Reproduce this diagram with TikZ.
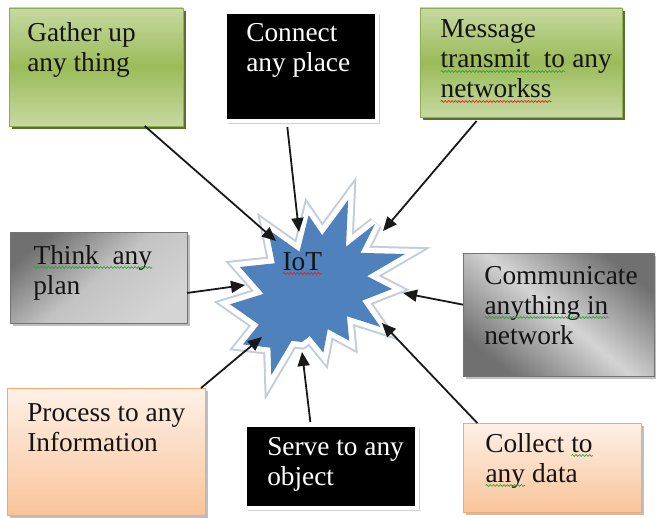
\documentclass[tikz,border=0pt]{standalone}
\usepackage{fontspec}
\setmainfont{Liberation Serif}
\usetikzlibrary{arrows.meta,calc,decorations.pathmorphing,shadows}
\definecolor{gLight}{HTML}{C6D9A0}
\definecolor{gDark}{HTML}{9BBB59}
\definecolor{gEdge}{HTML}{8EAD50}
\definecolor{gShadow}{HTML}{5A7030}
\definecolor{pLight}{HTML}{FEF1E7}
\definecolor{pDark}{HTML}{F9C49A}
\definecolor{pEdge}{HTML}{F9A66C}
\definecolor{greyLight}{HTML}{D4D4D4}
\definecolor{greyDark}{HTML}{707070}
\definecolor{starBlue}{HTML}{4F81BD}
\definecolor{starRim}{HTML}{C3CDD9}
\definecolor{sqRed}{HTML}{E02020}
\definecolor{sqGreen}{HTML}{30A030}
\newcommand\wav[2]{\tikz[baseline=(w.base)]{\node[inner sep=0pt,outer sep=0pt,anchor=base,draw=none,fill=none](w){#2};\draw[#1,line width=0.5pt,decorate,decoration={snake,amplitude=0.7pt,segment length=2.6pt}]([yshift=-2.6pt]w.base west)--([yshift=-2.6pt]w.base east);}}
\begin{document}
\begin{tikzpicture}[x=0.75pt,y=-0.75pt,
  font=\fontsize{20.5}{22.5}\selectfont,
  box/.style={anchor=north west,inner sep=0pt,outer sep=0pt},
  greenbox/.style={box,top color=gLight,bottom color=gLight,middle color=gDark,draw=gEdge,line width=0.6pt,
    drop shadow={shadow xshift=2.2pt,shadow yshift=-2.2pt,fill=gShadow,opacity=1}},
  peachbox/.style={box,top color=pLight,bottom color=pDark,draw=pEdge,line width=0.6pt,
    drop shadow={shadow xshift=2.2pt,shadow yshift=-2.2pt,fill=black!25,opacity=1}},
  greybox/.style={box,draw=black!55,line width=0.5pt,
    drop shadow={shadow xshift=2.2pt,shadow yshift=-2.2pt,fill=black!25,opacity=1}},
  greyA/.style={greybox,top color=greyDark,bottom color=greyLight,middle color=greyLight!92!black,shading angle=40},
  greyB/.style={greybox,top color=greyDark,bottom color=greyDark,middle color=greyLight,shading angle=-40},
  blackbox/.style={box,fill=black,draw=white,line width=3.5pt,
    drop shadow={shadow xshift=2.5pt,shadow yshift=-2.5pt,fill=black!18,opacity=1}},
  txt/.style={anchor=base west,align=left,inner sep=0pt,text=black!92},
  wtxt/.style={txt,text=white},
  conn/.style={draw=black!90,line width=1.35pt,-{Triangle[length=10.5pt,width=9pt]}}
]
\useasboundingbox (0,0) rectangle (656,517);
% star
\def\starpath{(322.2,235.2) -- (348.1,200) -- (346.0,246.8) -- (375,224) -- (360.4,252.9) -- (405,254) -- (367,276.2) -- (392,289) -- (362,300.7) -- (380.5,327) -- (346.9,316.2) -- (349.2,340.7) -- (327.8,329.1) -- (323.3,352.6) -- (309.8,336) -- (302,342) -- (291.6,340.8) -- (271.3,375) -- (270.4,347.7) -- (243.0,344.4) -- (258.9,324.5) -- (230,304.3) -- (263.6,293.9) -- (240,267) -- (274.8,263.3) -- (268.0,229.4) -- (299.5,251.7) -- (308.6,215.3) -- cycle}
\draw[starRim,line width=11pt,line join=miter,miter limit=4] \starpath;
\draw[white,line width=8pt,line join=miter,miter limit=4] \starpath;
\fill[starBlue] \starpath;
\node[txt] (iot) at (282,270) {\wav{sqRed}{IoT}};
% boxes
\node[greenbox,minimum width=130.5pt,minimum height=88.5pt] (gather) at (9,8) {};
\node[blackbox,minimum width=114pt,minimum height=81.75pt] (connect) at (225,12) {};
\node[greenbox,minimum width=151.5pt,minimum height=81.75pt] (message) at (420,8) {};
\node[greyA,minimum width=132.75pt,minimum height=68.25pt] (think) at (10,232) {};
\node[greyB,minimum width=143.25pt,minimum height=92.25pt] (comm) at (463,253) {};
\node[peachbox,minimum width=148.5pt,minimum height=95.25pt] (process) at (7,388) {};
\node[blackbox,minimum width=129pt,minimum height=62.25pt] (serve) at (245,425) {};
\node[peachbox,minimum width=133.5pt,minimum height=66.75pt] (collect) at (463,423) {};
% texts (base anchor = baseline of the last line)
\node[txt] (tgather) at (27,71) {Gather up\\any thing};
\node[wtxt] (tconnect) at (246,71) {Connect\\any place};
\node[txt] (tmessage) at (440,98) {Message\\\wav{sqGreen}{transmit\ \ to} any\\\wav{sqRed}{networkss}};
\node[txt] (tthink) at (33,294) {\wav{sqGreen}{Think\ \ any}\\plan};
\node[txt] (tcomm) at (484,344) {Communicate\\\wav{sqGreen}{anything in}\\network};
\node[txt] (tprocess) at (27,451) {Process to any\\Information};
\node[wtxt] (tserve) at (267,485) {Serve to any\\object};
\node[txt] (tcollect) at (485,482) {Collect \wav{sqGreen}{to}\\\wav{sqGreen}{any} data};
% arrow tips on the star
\coordinate (t1) at (276,241);
\coordinate (t2) at (299,232);
\coordinate (t3) at (383,231);
\coordinate (t4) at (245,285);
\coordinate (t5) at (403,293);
\coordinate (t6) at (262,337);
\coordinate (t7) at (302,352);
\coordinate (t8) at (382,323);
% connectors
\draw[conn] ($(gather.south west)!0.78!(gather.south east)$) -- (t1);
\draw[conn] ($(connect.south west)!0.41!(connect.south east)+(0,6)$) -- (t2);
\draw[conn] ($(message.south west)!0.28!(message.south east)+(0,4)$) -- (t3);
\draw[conn] ($(think.north east)!0.67!(think.south east)$) -- (t4);
\draw[conn] ($(comm.north west)!0.42!(comm.south west)$) -- (t5);
\draw[conn] ($(process.north west)!0.98!(process.north east)$) -- (t6);
\draw[conn] ($(serve.north west)!0.38!(serve.north east)+(0,-3)$) -- (t7);
\draw[conn] ($(collect.north west)!0.08!(collect.north east)$) -- (t8);
\end{tikzpicture}
\end{document}
